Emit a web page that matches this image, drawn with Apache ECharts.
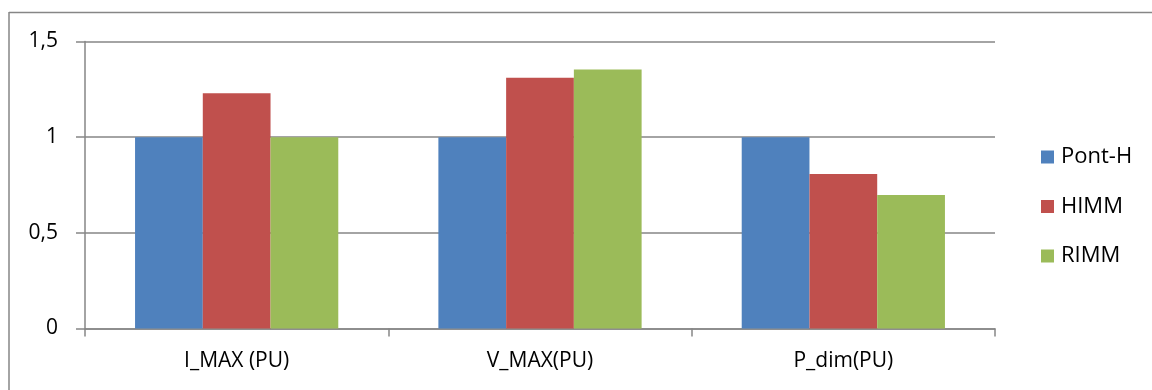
<!DOCTYPE html>
<html><head><meta charset="utf-8">
<script src="https://cdn.jsdelivr.net/npm/echarts@6/dist/echarts.min.js"></script>
<style>html,body{margin:0;padding:0;background:#fff}#c{width:1152px;height:390px}</style>
</head><body><div id="c"></div>
<script>
const categories = ['I_MAX (PU)', 'V_MAX(PU)', 'P_dim(PU)'];
const seriesNames = ['Pont-H', 'HIMM', 'RIMM'];
const pontH = [1, 1, 1];
const himm = [1.23, 1.31, 0.808];
const rimm = [1.0, 1.354, 0.698];
const colors = ['#4F81BD', '#C0504D', '#9BBB59'];
const yTickLabels = {0: '0', 0.5: '0,5', 1: '1', 1.5: '1,5'};

const font = '"Open Sans", "Noto Sans", sans-serif';
const chart = echarts.init(document.getElementById('c'), null, {renderer: 'canvas'});
const values = [pontH, himm, rimm];
chart.setOption({
  animation: false,
  color: colors,
  grid: {left: 85, right: 157, top: 41.5, bottom: 61.5, containLabel: false},
  legend: {
    orient: 'vertical', left: 1036, top: 141, itemWidth: 13, itemHeight: 13,
    itemGap: 27.5, icon: 'rect',
    textStyle: {fontFamily: font, fontSize: 22, color: '#000', padding: [0,0,0,2]},
    data: seriesNames
  },
  xAxis: {
    type: 'category', data: categories,
    axisLine: {lineStyle: {color: '#868686', width: 1.5}},
    axisTick: {show: true, length: 8, inside: false, alignWithLabel: false, lineStyle: {color: '#868686', width: 1.5}},
    axisLabel: {fontFamily: font, fontSize: 21, color: '#000', margin: 22}
  },
  yAxis: {
    type: 'value', min: 0, max: 1.5, interval: 0.5,
    axisLine: {show: true, lineStyle: {color: '#868686', width: 1.5}},
    axisTick: {show: true, length: 9, lineStyle: {color: '#868686', width: 1.5}},
    splitLine: {lineStyle: {color: '#868686', width: 1.5}},
    axisLabel: {fontFamily: font, fontSize: 21, color: '#000', margin: 27,
      formatter: v => yTickLabels[v] !== undefined ? yTickLabels[v] : String(v).replace('.', ',')}
  },
  series: seriesNames.map((n, i) => ({
    name: n, type: 'bar', data: values[i],
    barGap: '0%', barCategoryGap: '33%',
    itemStyle: {color: colors[i]}
  })),
  graphic: [
    {type: 'line', shape: {x1: 9, y1: 12.5, x2: 1152, y2: 12.5}, style: {stroke: '#868686', lineWidth: 1.5}},
    {type: 'line', shape: {x1: 9, y1: 12, x2: 9, y2: 390}, style: {stroke: '#868686', lineWidth: 1.5}}
  ]
});
</script></body></html>
